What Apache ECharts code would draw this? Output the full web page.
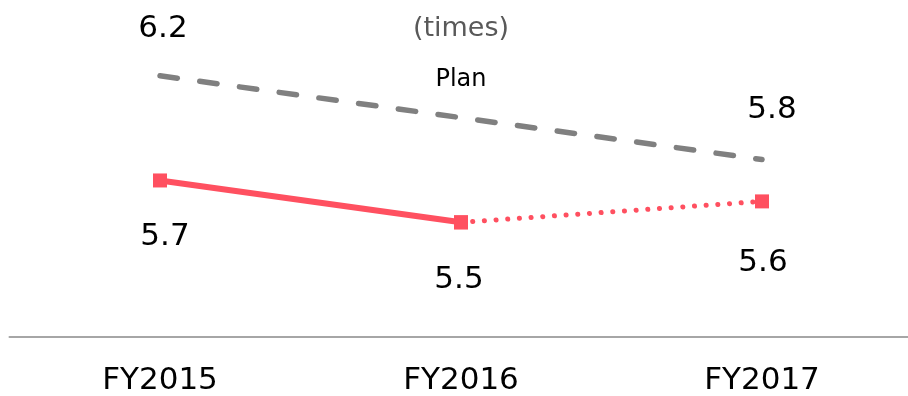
<!DOCTYPE html>
<html>
<head>
<meta charset="utf-8">
<script src="https://cdn.jsdelivr.net/npm/echarts@6/dist/echarts.min.js"></script>
<style>
  html, body { margin: 0; padding: 0; background: #ffffff; }
  #chart { width: 908px; height: 396px; }
</style>
</head>
<body>
<div id="chart"></div>
<script>
// Fiscal years on the horizontal axis
var categories = ['FY2015', 'FY2016', 'FY2017'];
// Planned ratio (times)
var planValues = [6.2, 6.0, 5.8];
// Actual ratio: FY2015-FY2016 results, FY2016-FY2017 forecast
var actualValues = [5.7, 5.5, null];
var forecastValues = [null, 5.5, 5.6];
// Value labels shown beside the points
var planLabels = ['6.2', '', '5.8'];
var actualLabels = ['5.7', '5.5', '5.6'];

var FONT = '"DejaVu Sans", Verdana, sans-serif';
var RED = '#ff5060';
var GRAY = '#808080';

var chart = echarts.init(document.getElementById('chart'), null, { renderer: 'canvas' });

var planDist = [31, 0, 34];
var planDx = [3, 0, 10];

function planData() {
  var out = [];
  for (var i = 0; i < planValues.length; i++) {
    var item = { value: planValues[i] };
    if (planLabels[i]) {
      item.label = {
        show: true,
        position: 'top',
        distance: planDist[i],
        offset: [planDx[i], 0],
        formatter: planLabels[i]
      };
    }
    out.push(item);
  }
  return out;
}

var labelDist = [34, 35, 39];
var labelDx = [5, -2, 1];

function actualData(values, showIdx) {
  var out = [];
  for (var i = 0; i < values.length; i++) {
    if (values[i] === null) { out.push(null); continue; }
    var item = { value: values[i] };
    if (showIdx.indexOf(i) >= 0) {
      item.label = {
        show: true,
        position: 'bottom',
        distance: labelDist[i],
        offset: [labelDx[i], 0],
        formatter: actualLabels[i]
      };
    }
    out.push(item);
  }
  return out;
}

var option = {
  animation: false,
  backgroundColor: '#ffffff',
  textStyle: { fontFamily: FONT },
  grid: [
    // plotting area: first and last fiscal year sit on the edges
    { left: 160, right: 146, top: 13, bottom: 59, containLabel: false },
    // full-width baseline
    { left: 9.5, right: 0, top: 13, bottom: 59, containLabel: false }
  ],
  xAxis: [
    {
      type: 'category',
      gridIndex: 0,
      data: categories,
      boundaryGap: false,
      axisLine: { show: false },
      axisTick: { show: false },
      axisLabel: { color: '#000000', fontSize: 31, fontFamily: FONT, margin: 38 }
    },
    {
      type: 'category',
      gridIndex: 1,
      data: categories,
      boundaryGap: true,
      axisLine: { show: true, lineStyle: { color: '#a6a6a6', width: 2 } },
      axisTick: { show: false },
      axisLabel: { show: false }
    }
  ],
  yAxis: [
    { type: 'value', gridIndex: 0, min: 5.0, max: 6.5, show: false, splitLine: { show: false } },
    { type: 'value', gridIndex: 1, min: 0, max: 1, show: false, splitLine: { show: false } }
  ],
  graphic: [
    {
      type: 'text', x: 461, y: 15,
      style: { text: '(times)', fill: '#595959', font: '27px ' + FONT, align: 'center', textAlign: 'center' }
    },
    {
      type: 'text', x: 461, y: 68,
      style: { text: 'Plan', fill: '#000000', font: '24px ' + FONT, align: 'center', textAlign: 'center' }
    }
  ],
  series: [
    {
      name: 'Plan',
      type: 'line',
      data: planData(),
      symbol: 'circle',
      symbolSize: 1,
      showSymbol: true,
      itemStyle: { color: 'rgba(0,0,0,0)' },
      lineStyle: { color: GRAY, width: 5.5, type: [17.5, 22.6], cap: 'round' },
      label: { color: '#000000', fontSize: 31, fontFamily: FONT },
      z: 2
    },
    {
      name: 'Actual',
      type: 'line',
      data: actualData(actualValues, [0, 1]),
      symbol: 'rect',
      symbolSize: 14,
      itemStyle: { color: RED },
      lineStyle: { color: RED, width: 6 },
      label: { color: '#000000', fontSize: 31, fontFamily: FONT },
      z: 4
    },
    {
      name: 'Forecast',
      type: 'line',
      data: actualData(forecastValues, [2]),
      symbol: 'rect',
      symbolSize: 14,
      itemStyle: { color: RED },
      lineStyle: { color: RED, width: 5, type: [0.1, 11.6], cap: 'round' },
      label: { color: '#000000', fontSize: 31, fontFamily: FONT },
      z: 3
    }
  ]
};

chart.setOption(option);
</script>
</body>
</html>
